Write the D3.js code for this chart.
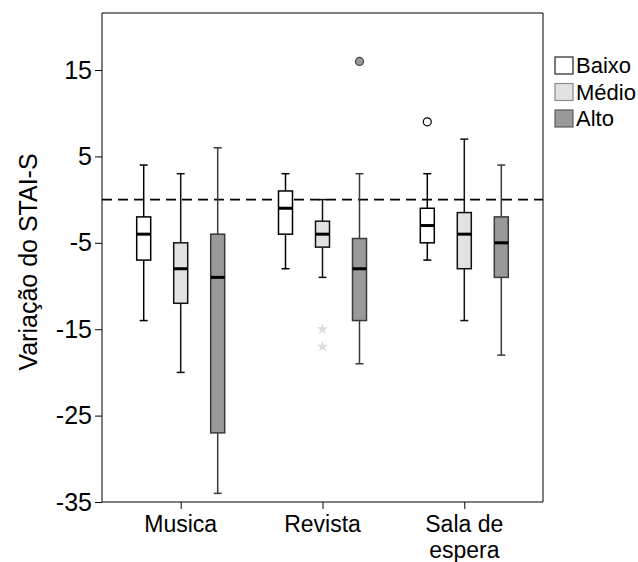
<!DOCTYPE html>
<html>
<head>
<meta charset="utf-8">
<script src="https://cdn.jsdelivr.net/npm/d3@7"></script>
<style>
  html, body { margin: 0; padding: 0; background: #fff; }
  svg { display: block; font-family: "Liberation Sans", Arial, sans-serif; }
</style>
</head>
<body>
<svg id="chart" width="638" height="562"></svg>
<script>
// Change in STAI-S score by intervention and baseline anxiety level
const groups = ["Musica", "Revista", "Sala de espera"];
const levels = ["Baixo", "Médio", "Alto"];

// Five-number summaries per level, one entry per group: [lower whisker, Q1, median, Q3, upper whisker]
const baixoStats = [[-14, -7, -4, -2, 4], [-8, -4, -1, 1, 3], [-7, -5, -3, -1, 3]];
const medioStats = [[-20, -12, -8, -5, 3], [-9, -5.5, -4, -2.5, 0], [-14, -8, -4, -1.5, 7]];
const altoStats  = [[-34, -27, -9, -4, 6], [-19, -14, -8, -4.5, 3], [-18, -9, -5, -2, 4]];

// Outliers (circles) and extreme values (stars)
const outliers = [
  { group: "Revista", level: "Alto", value: 16 },
  { group: "Sala de espera", level: "Baixo", value: 9 }
];
const extremes = [
  { group: "Revista", level: "Médio", value: -15 },
  { group: "Revista", level: "Médio", value: -17 }
];

const yTicks = [15, 5, -5, -15, -25, -35];
const refValue = 0;

const fills   = { "Baixo": "#ffffff", "Médio": "#e2e2e2", "Alto": "#999999" };
const strokes = { "Baixo": "#000000", "Médio": "#111111", "Alto": "#3a3a3a" };
const legendStrokes = { "Baixo": "#222222", "Médio": "#8a8a8a", "Alto": "#5a5a5a" };

const statsByLevel = { "Baixo": baixoStats, "Médio": medioStats, "Alto": altoStats };
const boxes = [];
levels.forEach(lv => {
  groups.forEach((g, i) => {
    const s = statsByLevel[lv][i];
    boxes.push({ group: g, level: lv, lo: s[0], q1: s[1], med: s[2], q3: s[3], hi: s[4] });
  });
});

const svg = d3.select("#chart");
const plot = { left: 102, right: 543, top: 13, bottom: 502 };

const x = d3.scalePoint().domain(groups).range([plot.left, plot.right]).padding(0.555);
const xOff = d3.scalePoint().domain(levels).range([-37, 37]);
const y = d3.scaleLinear().domain([-35, 21.6]).range([plot.bottom, plot.top]);

const boxW = 14, capW = 8;
const cx = d => x(d.group) + xOff(d.level);

// Plot frame (top and right edges)
svg.append("path")
  .attr("d", `M${plot.left},${plot.top}H${plot.right}V${plot.bottom}`)
  .attr("fill", "none").attr("stroke", "#000").attr("stroke-width", 1);

// Reference line at zero change
svg.append("line")
  .attr("x1", plot.left).attr("x2", plot.right)
  .attr("y1", y(refValue)).attr("y2", y(refValue))
  .attr("stroke", "#000").attr("stroke-width", 1.6)
  .attr("stroke-dasharray", "10,6");

// Boxplots
const bx = svg.append("g").selectAll("g").data(boxes).join("g");

bx.append("line")
  .attr("x1", cx).attr("x2", cx)
  .attr("y1", d => y(d.hi)).attr("y2", d => y(d.q3))
  .attr("stroke", d => strokes[d.level]).attr("stroke-width", 1.5);
bx.append("line")
  .attr("x1", cx).attr("x2", cx)
  .attr("y1", d => y(d.q1)).attr("y2", d => y(d.lo))
  .attr("stroke", d => strokes[d.level]).attr("stroke-width", 1.5);
bx.append("line")
  .attr("x1", d => cx(d) - capW / 2).attr("x2", d => cx(d) + capW / 2)
  .attr("y1", d => y(d.hi)).attr("y2", d => y(d.hi))
  .attr("stroke", d => strokes[d.level]).attr("stroke-width", 1.5);
bx.append("line")
  .attr("x1", d => cx(d) - capW / 2).attr("x2", d => cx(d) + capW / 2)
  .attr("y1", d => y(d.lo)).attr("y2", d => y(d.lo))
  .attr("stroke", d => strokes[d.level]).attr("stroke-width", 1.5);
bx.append("rect")
  .attr("x", d => cx(d) - boxW / 2).attr("width", boxW)
  .attr("y", d => y(d.q3)).attr("height", d => y(d.q1) - y(d.q3))
  .attr("fill", d => fills[d.level])
  .attr("stroke", d => strokes[d.level]).attr("stroke-width", 1.5);
bx.append("line")
  .attr("x1", d => cx(d) - boxW / 2).attr("x2", d => cx(d) + boxW / 2)
  .attr("y1", d => y(d.med)).attr("y2", d => y(d.med))
  .attr("stroke", "#000").attr("stroke-width", 3);

// Outlier circles
svg.append("g").selectAll("circle").data(outliers).join("circle")
  .attr("cx", cx).attr("cy", d => y(d.value)).attr("r", 4)
  .attr("fill", d => fills[d.level])
  .attr("stroke", d => d.level === "Alto" ? "#444" : "#000").attr("stroke-width", 1.2);

// Extreme values drawn as stars
svg.append("g").selectAll("path").data(extremes).join("path")
  .attr("d", d3.symbol(d3.symbolStar, 40))
  .attr("transform", d => `translate(${cx(d)},${y(d.value)})`)
  .attr("fill", "#dddddd");

// Y axis
const yAxis = svg.append("g")
  .attr("transform", `translate(${plot.left},0)`)
  .call(d3.axisLeft(y).tickValues(yTicks).tickFormat(d3.format("d")).tickSize(7).tickPadding(3));
yAxis.select(".domain").attr("d", `M0,${plot.top}V${plot.bottom}`).attr("stroke", "#000");
yAxis.selectAll(".tick line").attr("stroke", "#000");
yAxis.selectAll(".tick text")
  .attr("font-size", 25).attr("fill", "#000")
  .attr("font-family", "Liberation Sans, Arial, sans-serif")
  .text(d => d < 0 ? "-" + Math.abs(d) : d);

// X axis
const xAxis = svg.append("g")
  .attr("transform", `translate(0,${plot.bottom})`)
  .call(d3.axisBottom(x).tickSize(7).tickFormat(""));
xAxis.select(".domain").attr("d", `M${plot.left},0H${plot.right}`).attr("stroke", "#000");
xAxis.selectAll(".tick line").attr("stroke", "#000");

// Category labels, wrapped onto two lines where needed
const catLines = { "Musica": ["Musica"], "Revista": ["Revista"], "Sala de espera": ["Sala de", "espera"] };
const catLabels = [];
groups.forEach(g => catLines[g].forEach((t, i) => catLabels.push({ group: g, text: t, line: i })));
svg.append("g").selectAll("text").data(catLabels).join("text")
  .attr("x", d => x(d.group)).attr("y", d => 532 + d.line * 26)
  .attr("text-anchor", "middle").attr("font-size", 23).attr("fill", "#000")
  .text(d => d.text);

// Y axis title
svg.append("text")
  .attr("transform", `translate(37,262) rotate(-90)`)
  .attr("text-anchor", "middle").attr("font-size", 25).attr("fill", "#000")
  .text("Variação do STAI-S");

// Legend
const legend = svg.append("g").selectAll("g").data(levels).join("g")
  .attr("transform", (d, i) => `translate(555,${57 + i * 26.5})`);
legend.append("rect")
  .attr("width", 18).attr("height", 17)
  .attr("fill", d => fills[d]).attr("stroke", d => legendStrokes[d]).attr("stroke-width", 1.2);
legend.append("text")
  .attr("x", 21).attr("y", 16)
  .attr("font-size", 22).attr("fill", "#000")
  .text(d => d);
</script>
</body>
</html>
